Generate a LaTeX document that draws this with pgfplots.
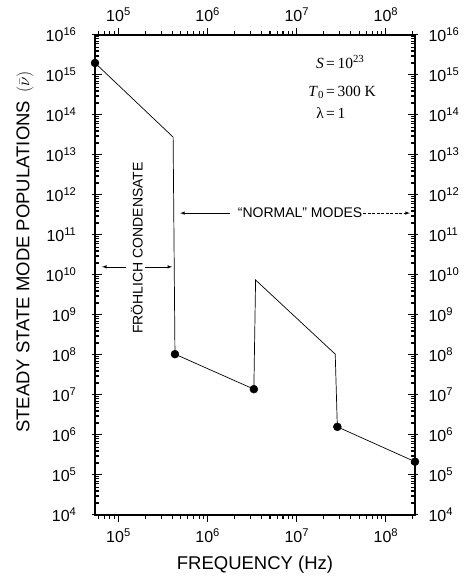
\documentclass[border=0pt]{standalone}
\usepackage{pgfplots}
\pgfplotsset{compat=1.18}
\usepackage{fontspec}
\setmainfont{Liberation Sans}
\newfontfamily\serifont{Liberation Serif}

\begin{document}
\begin{tikzpicture}
\useasboundingbox (-95pt,-65pt) rectangle (377pt,515pt);

\begin{axis}[
    scale only axis, width=320pt, height=480pt,
    xmode=log, ymode=log,
    xmin=5.45e4, xmax=2.12e8, ymin=1e4, ymax=1e16,
    xtick={1e5,1e6,1e7,1e8},
    ytick={1e4,1e5,1e6,1e7,1e8,1e9,1e10,1e11,1e12,1e13,1e14,1e15,1e16},
    xticklabels={10\textsuperscript{5},10\textsuperscript{6},10\textsuperscript{7},10\textsuperscript{8}},
    yticklabels={10\textsuperscript{4},10\textsuperscript{5},10\textsuperscript{6},10\textsuperscript{7},10\textsuperscript{8},10\textsuperscript{9},10\textsuperscript{10},10\textsuperscript{11},10\textsuperscript{12},10\textsuperscript{13},10\textsuperscript{14},10\textsuperscript{15},10\textsuperscript{16}},
    xtick align=outside, ytick align=inside,
    major tick length=7pt, minor tick length=4pt,
    xtick style={draw=black, line width=1pt},
    ytick style={draw=black, line width=1pt},
    axis line style={line width=1.2pt},
    tick label style={font=\fontsize{16}{18}\selectfont},
    xticklabel pos=lower, yticklabel pos=left,
    xticklabel style={yshift=-3pt},
    yticklabel style={xshift=-15pt},
    clip=false]

  % curve
  \addplot[black, line width=0.7pt] coordinates {
    (5.45e4, 2.0e15)
    (4.1e5, 2.8e13)
    (4.3e5, 1.05e8)
    (3.3e6, 1.4e7)
    (3.45e6, 7.5e9)
    (2.7e7, 1.05e8)
    (2.85e7, 1.6e6)
    (2.12e8, 2.15e5)
  };
  % computed points
  \addplot[only marks, mark=*, mark size=4pt, black] coordinates {
    (5.45e4, 2.0e15)
    (4.3e5, 1.05e8)
    (3.3e6, 1.4e7)
    (2.85e7, 1.6e6)
    (2.12e8, 2.15e5)
  };

  % tick marks on all four sides (x outward, y inward)
  \pgfplotsinvokeforeach{1e5,1e6,1e7,1e8}{
    \draw[line width=1pt] (axis cs:#1,1e4) -- ++(0pt,-7pt);
    \draw[line width=1pt] (axis cs:#1,1e16) -- ++(0pt,7pt);
  }
  \pgfplotsinvokeforeach{6e4,7e4,8e4,9e4,
      2e5,3e5,4e5,5e5,6e5,7e5,8e5,9e5,
      2e6,3e6,4e6,5e6,6e6,7e6,8e6,9e6,
      2e7,3e7,4e7,5e7,6e7,7e7,8e7,9e7,2e8}{
    \draw[line width=0.8pt] (axis cs:#1,1e4) -- ++(0pt,-4pt);
    \draw[line width=0.8pt] (axis cs:#1,1e16) -- ++(0pt,4pt);
  }
  \pgfplotsinvokeforeach{1e4,1e5,1e6,1e7,1e8,1e9,1e10,1e11,1e12,1e13,1e14,1e15,1e16}{
    \draw[line width=1pt] (axis cs:5.45e4,#1) ++(-3pt,0pt) -- ++(10pt,0pt);
    \draw[line width=1pt] (axis cs:2.12e8,#1) ++(3pt,0pt) -- ++(-10pt,0pt);
  }
  \pgfplotsinvokeforeach{2e4,3e4,4e4,5e4,6e4,7e4,8e4,9e4,
      2e5,3e5,4e5,5e5,6e5,7e5,8e5,9e5,
      2e6,3e6,4e6,5e6,6e6,7e6,8e6,9e6,
      2e7,3e7,4e7,5e7,6e7,7e7,8e7,9e7,
      2e8,3e8,4e8,5e8,6e8,7e8,8e8,9e8,
      2e9,3e9,4e9,5e9,6e9,7e9,8e9,9e9,
      2e10,3e10,4e10,5e10,6e10,7e10,8e10,9e10,
      2e11,3e11,4e11,5e11,6e11,7e11,8e11,9e11,
      2e12,3e12,4e12,5e12,6e12,7e12,8e12,9e12,
      2e13,3e13,4e13,5e13,6e13,7e13,8e13,9e13,
      2e14,3e14,4e14,5e14,6e14,7e14,8e14,9e14,
      2e15,3e15,4e15,5e15,6e15,7e15,8e15,9e15}{
    \draw[line width=0.8pt] (axis cs:5.45e4,#1) -- ++(4pt,0pt);
    \draw[line width=0.8pt] (axis cs:2.12e8,#1) -- ++(-4pt,0pt);
  }

  % parameters
  \begin{scope}[font=\serifont\fontsize{15.5}{17}\selectfont]
    \node[anchor=base east, inner sep=0pt] at (rel axis cs:0.716,0.931) {\textit{S}};
    \node[anchor=base west, inner sep=0pt] at (rel axis cs:0.722,0.931) {=\,10\textsuperscript{23}};
    \node[anchor=base east, inner sep=0pt] at (rel axis cs:0.716,0.872) {\textit{T}\textsubscript{0}};
    \node[anchor=base west, inner sep=0pt] at (rel axis cs:0.722,0.872) {=\,300 K};
    \node[anchor=base east, inner sep=0pt] at (rel axis cs:0.716,0.826) {λ};
    \node[anchor=base west, inner sep=0pt] at (rel axis cs:0.722,0.826) {=\,1};
  \end{scope}

  % annotations
  \node[rotate=90, font=\fontsize{14}{16}\selectfont] at (rel axis cs:0.131,0.556) {FRÖHLICH CONDENSATE};
  \draw[-latex, line width=0.6pt] (rel axis cs:0.097,0.517) -- (rel axis cs:0.022,0.517);
  \draw[-latex, line width=0.6pt] (rel axis cs:0.156,0.517) -- (rel axis cs:0.241,0.517);

  \node[font=\fontsize{14}{16}\selectfont] at (rel axis cs:0.641,0.629) {“NORMAL” MODES};
  \draw[-latex, line width=0.6pt] (rel axis cs:0.422,0.629) -- (rel axis cs:0.266,0.629);
  \draw[-latex, line width=0.6pt, dash pattern=on 3pt off 1.5pt] (rel axis cs:0.838,0.629) -- (rel axis cs:0.984,0.629);

  % axis titles
  \node[font=\fontsize{18.5}{20}\selectfont, yshift=-50pt] at (rel axis cs:0.5,0) {FREQUENCY (Hz)};
  \node[xshift=-70pt, rotate=90, font=\fontsize{18.5}{20}\selectfont] at (rel axis cs:0,0.548) {STEADY STATE MODE POPULATIONS \,$(\bar{\nu})$};
\end{axis}

% second copy of the axes, for the labels on top and right
\begin{axis}[
    scale only axis, width=320pt, height=480pt,
    xmode=log, ymode=log,
    xmin=5.45e4, xmax=2.12e8, ymin=1e4, ymax=1e16,
    xtick={1e5,1e6,1e7,1e8},
    ytick={1e4,1e5,1e6,1e7,1e8,1e9,1e10,1e11,1e12,1e13,1e14,1e15,1e16},
    xticklabels={10\textsuperscript{5},10\textsuperscript{6},10\textsuperscript{7},10\textsuperscript{8}},
    yticklabels={10\textsuperscript{4},10\textsuperscript{5},10\textsuperscript{6},10\textsuperscript{7},10\textsuperscript{8},10\textsuperscript{9},10\textsuperscript{10},10\textsuperscript{11},10\textsuperscript{12},10\textsuperscript{13},10\textsuperscript{14},10\textsuperscript{15},10\textsuperscript{16}},
    xtick align=outside, ytick align=inside,
    major tick length=7pt,
    xtick style={draw=black, line width=1pt},
    ytick style={draw=black, line width=1pt},
    axis line style={line width=1.2pt},
    tick label style={font=\fontsize{16}{18}\selectfont},
    xticklabel pos=upper, yticklabel pos=right,
    xticklabel style={yshift=3pt},
    yticklabel style={xshift=10pt}]
  \addplot[draw=none] coordinates {(1e6,1e8)};
\end{axis}
\end{tikzpicture}
\end{document}
